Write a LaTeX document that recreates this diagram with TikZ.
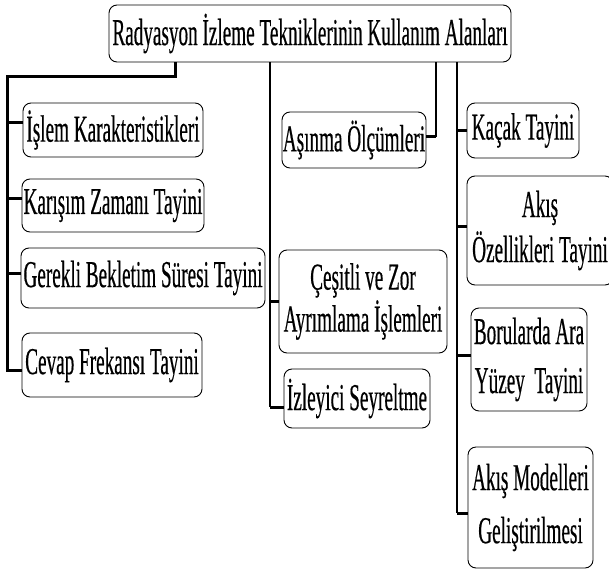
\documentclass[tikz,border=0pt]{standalone}
\usepackage{fontspec}
\setmainfont[FakeStretch=0.505,FakeBold=0.4]{Liberation Serif}
\begin{document}
\begin{tikzpicture}[x=1pt,y=-1pt,
  box/.style={draw,line width=0.9pt,rounded corners=8pt,inner sep=0pt,align=center,
    font=\fontsize{38}{44}\selectfont},
  stub/.style={line width=3pt},
  trunk/.style={line width=1.6pt}]
\useasboundingbox (0,0) rectangle (609,572);
\node[box,minimum width=402pt,minimum height=57pt] (title) at (310,33.5) {Radyasyon İzleme Tekniklerinin Kullanım Alanları};
\node[box,minimum width=180pt,minimum height=54pt] (islem) at (113,130) {İşlem Karakteristikleri};
\node[box,minimum width=182pt,minimum height=53pt] (karisim) at (113,205.5) {Karışım Zamanı Tayini};
\node[box,minimum width=244pt,minimum height=60pt] (gerekli) at (143,278) {Gerekli Bekletim Süresi Tayini};
\node[box,minimum width=180pt,minimum height=64pt] (cevap) at (112,365) {Cevap Frekansı Tayini};
\node[box,minimum width=144pt,minimum height=56pt] (asinma) at (354,140) {Aşınma Ölçümleri};
\node[box,minimum width=168pt,minimum height=103pt] (cesitli) at (363,301.5) {Çeşitli ve Zor\\[-2pt]Ayrımlama İşlemleri};
\node[box,minimum width=146pt,minimum height=59pt] (izleyici) at (357,398.5) {İzleyici Seyreltme};
\node[box,minimum width=112pt,minimum height=55pt] (kacak) at (523,130.5) {Kaçak Tayini};
\node[box,minimum width=146pt,minimum height=109pt] (akisoz) at (540,230.5) {Akış\\[1pt]Özellikleri Tayini};
\node[box,minimum width=116pt,minimum height=103pt] (boru) at (529,359.5) {Borularda Ara\\[5pt]Yüzey~~Tayini};
\node[box,minimum width=125pt,minimum height=121pt] (akismod) at (530.5,507.5) {Akış Modelleri\\[9pt]Geliştirilmesi};
% coordinates of the buses
\coordinate (lt) at (175,77);
\coordinate (lb) at (7,77);
\coordinate (mx) at (270,0);
\coordinate (ax) at (436,0);
\coordinate (rx) at (457,0);
% left bus
\draw[stub,line join=miter] (title.south -| lt) -- (lt) -- (lb) -- ([yshift=-5pt]cevap.west -| lb) -- ([yshift=-5pt]cevap.west);
\draw[stub] ([yshift=7pt]islem.west -| lb) -- ([yshift=7pt]islem.west);
\draw[stub] ([yshift=7.5pt]karisim.west -| lb) -- ([yshift=7.5pt]karisim.west);
\draw[stub] ([yshift=5pt]gerekli.west -| lb) -- ([yshift=5pt]gerekli.west);
% middle bus
\draw[trunk] (title.south -| mx) -- ([yshift=-8.5pt]izleyici.west -| mx);
\draw[stub] ([yshift=-8.5pt]izleyici.west -| mx) -- ([yshift=-8.5pt]izleyici.west);
\draw[stub] (cesitli.west -| mx) -- (cesitli.west);
% asinma bus
\draw[trunk] (title.south -| ax) -- ([yshift=3pt]asinma.east -| ax);
\draw[stub] ([yshift=3pt]asinma.east -| ax) -- ([yshift=3pt]asinma.east);
% right bus
\draw[trunk] (title.south -| rx) -- ([yshift=-5.5pt]akismod.west -| rx);
\draw[stub] ([yshift=-5.5pt]akismod.west -| rx) -- ([yshift=-5.5pt]akismod.west);
\draw[stub] (kacak.west -| rx) -- (kacak.west);
\draw[stub] ([yshift=4.5pt]akisoz.west -| rx) -- ([yshift=4.5pt]akisoz.west);
\draw[stub] ([yshift=4.5pt]boru.west -| rx) -- ([yshift=4.5pt]boru.west);
\end{tikzpicture}
\end{document}
